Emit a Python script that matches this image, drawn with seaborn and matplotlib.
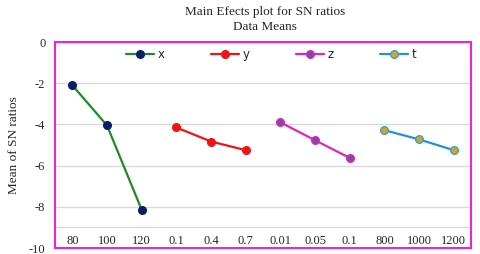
import numpy as np
import pandas as pd
import matplotlib
matplotlib.use("Agg")
import matplotlib.pyplot as plt
import seaborn as sns

sns.set_style("white")
plt.rcParams["font.family"] = ["Liberation Serif", "DejaVu Serif"]
plt.rcParams["axes.unicode_minus"] = False

# ---------------- DATA ----------------
factors = ["x", "y", "z", "t"]
x_levels = ["80", "100", "120"]
y_levels = ["0.1", "0.4", "0.7"]
z_levels = ["0.01", "0.05", "0.1"]
t_levels = ["800", "1000", "1200"]
x_sn = [-2.1, -4.05, -8.15]
y_sn = [-4.15, -4.83, -5.25]
z_sn = [-3.9, -4.77, -5.63]
t_sn = [-4.28, -4.73, -5.25]

tick_labels = x_levels + y_levels + z_levels + t_levels
levels = [x_levels, y_levels, z_levels, t_levels]
values = [x_sn, y_sn, z_sn, t_sn]

rows = []
pos = 0
for f, lv, vals in zip(factors, levels, values):
    for lab, v in zip(lv, vals):
        rows.append({"factor": f, "pos": pos, "level": lab, "sn": v})
        pos += 1
df = pd.DataFrame(rows)

# line colour, marker face, marker edge
styles = {
    "x": ("#1E8C24", "#0B1F66", "#0B1F66"),
    "y": ("#F01414", "#F01414", "#F01414"),
    "z": ("#E023C8", "#7A4E98", "#E023C8"),
    "t": ("#2390DC", "#D7A222", "#2AA6E0"),
}

# ---------------- CHART ----------------
fig = plt.figure(figsize=(4.8, 2.54), dpi=100)
ax = fig.add_axes([0.1146, 0.0236, 0.867, 0.811])

for f in factors:
    line, face, edge = styles[f]
    sns.lineplot(data=df[df["factor"] == f], x="pos", y="sn", color=line,
                 marker="o", markersize=5.5, markerfacecolor=face,
                 markeredgecolor=edge, markeredgewidth=1.0, linewidth=1.6,
                 label=f, ax=ax)

ax.set_xlim(-0.5, len(tick_labels) - 0.5)
ax.set_ylim(-10, 0)
ax.set_yticks([0, -2, -4, -6, -8, -10])
ax.set_xticks(range(len(tick_labels)))
ax.set_xticklabels(tick_labels)
ax.yaxis.grid(True, color="#D9D9D9", linewidth=1.0)
ax.axhline(-9, color="#D9D9D9", linewidth=1.0, zorder=0)
ax.set_axisbelow(True)
ax.tick_params(axis="y", length=0, pad=7, labelsize=9)
ax.tick_params(axis="x", length=0, pad=-9.5, labelsize=9)
ax.set_xlabel("")
ax.set_ylabel("Mean of SN ratios", fontsize=9.5, labelpad=6)

for s in ax.spines.values():
    s.set_color("#F020E0")
    s.set_linewidth(1.5)

ax.legend(loc="center", bbox_to_anchor=(0.519, 0.937), ncol=4, frameon=False,
          handlelength=2.4, columnspacing=3.9, handletextpad=0.3,
          prop={"family": "DejaVu Sans", "size": 8.5})

fig.text(0.552, 0.953, "Main Efects plot for SN ratios", ha="center",
         va="center", fontsize=9.5)
fig.text(0.552, 0.894, "Data Means", ha="center", va="center", fontsize=9.5)

plt.savefig("out.png", dpi=100)
plt.close()
